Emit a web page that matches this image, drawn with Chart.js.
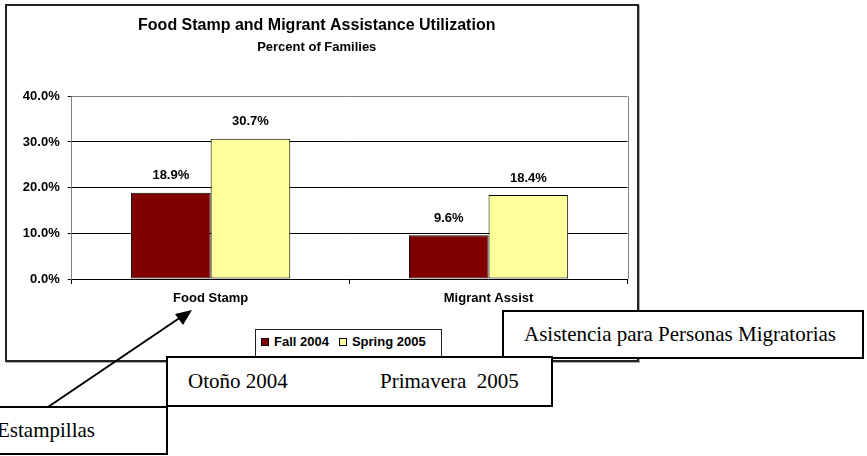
<!DOCTYPE html>
<html>
<head>
<meta charset="utf-8">
<title>Food Stamp and Migrant Assistance Utilization</title>
<script src="https://cdn.jsdelivr.net/npm/chart.js@4.4.1/dist/chart.umd.min.js"></script>
<style>
  html, body { margin: 0; padding: 0; background: #fff; overflow: hidden; }
  body { width: 867px; height: 456px; position: relative; }
  #chart { position: absolute; left: 6px; top: 5px; }
  .frame {
    position: absolute; left: 5px; top: 4px; width: 634px; height: 358px;
    box-sizing: border-box; border: 2px solid #222; box-shadow: 1px 1px 0 #aaa;
    pointer-events: none;
  }
  .legend {
    position: absolute; left: 255px; top: 329px; width: 187px; height: 28px;
    box-sizing: border-box; border: 1px solid #222; background: #fff;
    display: flex; align-items: center; padding: 0 0 3px 5px;
    font: bold 13px 'Liberation Sans', Arial, sans-serif; color: #000;
  }
  .legend .item { display: flex; align-items: center; margin-right: 10px; }
  .legend .swatch { width: 6px; height: 6px; border: 1px solid #000; margin-right: 5px; }
  .note {
    position: absolute; box-sizing: border-box; border: 2px solid #000; background: #fff;
    display: flex; align-items: center; padding-left: 20px; white-space: pre;
    font: 21px 'Liberation Serif', 'Times New Roman', serif; color: #000;
  }
  #arrow { position: absolute; left: 0; top: 0; pointer-events: none; }
</style>
</head>
<body>
<canvas id="chart" width="632" height="356"></canvas>
<div class="frame"></div>
<div class="legend" id="legend"></div>

<div class="note" style="left:502px; top:310px; width:362px; height:49px;">Asistencia para Personas Migratorias</div>
<div class="note" style="left:166px; top:356px; width:387px; height:51px;"><span style="display:inline-block; width:192px;">Otoño 2004</span>Primavera  2005</div>
<div class="note" style="left:-25px; top:406px; width:193px; height:49px;">Estampillas</div>

<svg id="arrow" width="867" height="456">
  <line x1="48" y1="407" x2="181" y2="317" stroke="#000" stroke-width="2"/>
  <polygon points="192,310 175,314 183,325" fill="#000"/>
</svg>

<script>
/* ─── Data ───────────────────────────────────────────────────────────────── */
const categories  = ['Food Stamp', 'Migrant Assist'];
const seriesNames = ['Fall 2004', 'Spring 2005'];
const fall2004    = [18.9, 9.6];
const spring2005  = [30.7, 18.4];
const yTickValues = [0, 10, 20, 30, 40];

const FONT = "'Liberation Sans', Arial, sans-serif";
Chart.defaults.font.family = FONT;
Chart.defaults.color = '#000';

/* ─── Plugins ────────────────────────────────────────────────────────────── */
// grey right edge of the plot area, like the Excel plot frame
const plotFrame = {
  id: 'plotFrame',
  beforeDatasetsDraw(chart) {
    const { ctx, chartArea: a } = chart;
    const x = Math.round(a.right) + 0.5;
    ctx.save();
    ctx.strokeStyle = '#808080';
    ctx.lineWidth = 1;
    ctx.beginPath();
    ctx.moveTo(x, a.top);
    ctx.lineTo(x, a.bottom);
    ctx.stroke();
    ctx.restore();
  }
};

// percent labels above each bar
const valueLabels = {
  id: 'valueLabels',
  afterDatasetsDraw(chart) {
    const { ctx } = chart;
    ctx.save();
    ctx.font = `bold 13px ${FONT}`;
    ctx.fillStyle = '#000';
    ctx.textAlign = 'center';
    ctx.textBaseline = 'middle';
    chart.data.datasets.forEach((ds, i) => {
      chart.getDatasetMeta(i).data.forEach((bar, j) => {
        ctx.fillText(`${ds.data[j].toFixed(1)}%`, bar.x, bar.y - 17);
      });
    });
    ctx.restore();
  }
};

/* ─── Chart ──────────────────────────────────────────────────────────────── */
const chart = new Chart(document.getElementById('chart'), {
  type: 'bar',
  data: {
    labels: categories,
    datasets: [
      {
        label: seriesNames[0],
        data: fall2004,
        backgroundColor: '#800000',
        borderColor: '#000',
        borderWidth: 1,
        borderSkipped: false,
        categoryPercentage: 0.573,
        barPercentage: 1.0
      },
      {
        label: seriesNames[1],
        data: spring2005,
        backgroundColor: '#FFFF99',
        borderColor: '#000',
        borderWidth: 1,
        borderSkipped: false,
        categoryPercentage: 0.573,
        barPercentage: 1.0
      }
    ]
  },
  options: {
    responsive: false,
    animation: false,
    layout: { padding: { left: 0, right: 10.5, top: 0, bottom: 0 } },
    plugins: {
      legend: { display: false },
      tooltip: { enabled: false },
      title: {
        display: true,
        text: 'Food Stamp and Migrant Assistance Utilization',
        font: { size: 16, weight: 'bold' },
        color: '#000',
        padding: { top: 11, bottom: 2 }
      },
      subtitle: {
        display: true,
        text: 'Percent of Families',
        font: { size: 13, weight: 'bold' },
        color: '#000',
        padding: { top: 2, bottom: 41.5 }
      }
    },
    scales: {
      x: {
        afterFit: s => { s.height = 82; },
        grid: {
          drawOnChartArea: false,
          drawTicks: true,
          tickLength: 5,
          color: '#000',
          tickColor: '#000'
        },
        border: { display: true, color: '#000', width: 1 },
        ticks: { padding: 7, font: { size: 13, weight: 'bold' }, color: '#000' }
      },
      y: {
        min: 0,
        max: 40,
        afterFit: s => { s.width = 65.7; },
        afterBuildTicks: s => { s.ticks = yTickValues.map(v => ({ value: v })); },
        grid: {
          color: c => (c.tick && c.tick.value === 40 ? '#808080' : '#000'),
          tickColor: '#000',
          tickLength: 4,
          lineWidth: 1
        },
        border: { display: true, color: '#808080', width: 1 },
        ticks: {
          padding: 8,
          font: { size: 13, weight: 'bold' },
          color: '#000',
          callback: v => `${Number(v).toFixed(1)}%`
        }
      }
    }
  },
  plugins: [plotFrame, valueLabels]
});

/* ─── Legend (built from the datasets) ───────────────────────────────────── */
const legendEl = document.getElementById('legend');
chart.data.datasets.forEach(ds => {
  const item = document.createElement('span');
  item.className = 'item';
  const sw = document.createElement('span');
  sw.className = 'swatch';
  sw.style.background = ds.backgroundColor;
  item.appendChild(sw);
  item.appendChild(document.createTextNode(ds.label));
  legendEl.appendChild(item);
});
</script>
</body>
</html>
